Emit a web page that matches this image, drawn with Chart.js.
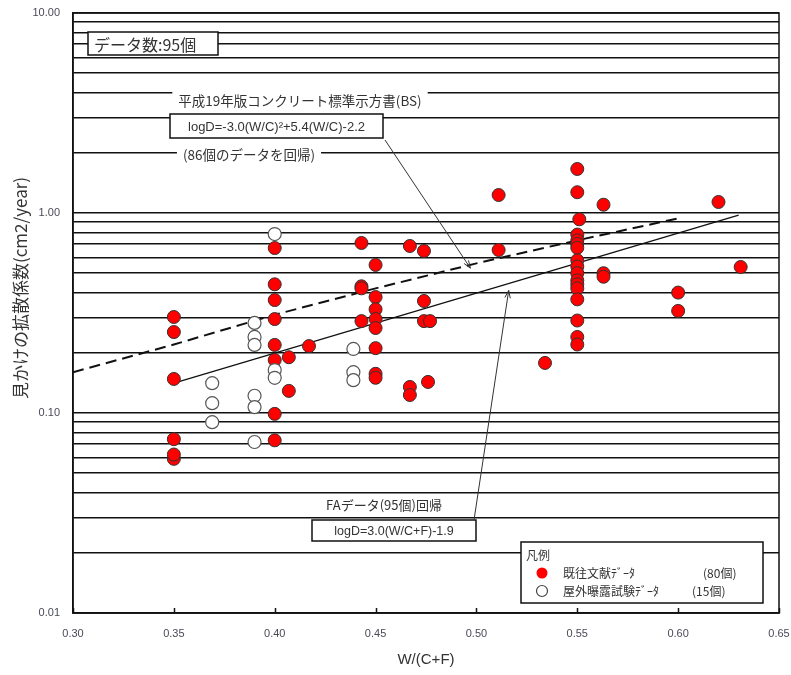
<!DOCTYPE html>
<html>
<head>
<meta charset="utf-8">
<script src="https://cdn.jsdelivr.net/npm/chart.js@4.4.0/dist/chart.umd.min.js"></script>
<style>
body { margin: 0; background: #fff; }
#wrap { width: 791px; height: 675px; }
</style>
</head>
<body>
<div id="wrap"><canvas id="chart" width="791" height="675"></canvas></div>
<script>
// 既往文献データ (red, filled)
var litX = [0.35, 0.35, 0.35, 0.35, 0.35, 0.35,
	0.40, 0.40, 0.40, 0.40, 0.40, 0.40, 0.40, 0.40,
	0.407, 0.407, 0.417,
	0.443, 0.443, 0.443, 0.443,
	0.45, 0.45, 0.45, 0.45, 0.45, 0.45, 0.45, 0.45,
	0.467, 0.467, 0.467,
	0.474, 0.474, 0.474, 0.477, 0.476,
	0.511, 0.511, 0.534,
	0.55, 0.55, 0.551, 0.55, 0.55, 0.55, 0.55, 0.55, 0.55, 0.55, 0.55, 0.55, 0.55, 0.55, 0.55, 0.55, 0.55,
	0.563, 0.563, 0.563,
	0.60, 0.60, 0.62, 0.631];
var litY = [0.302, 0.254, 0.148, 0.074, 0.059, 0.062,
	0.668, 0.44, 0.367, 0.295, 0.219, 0.184, 0.099, 0.073,
	0.19, 0.129, 0.216,
	0.708, 0.43, 0.42, 0.288,
	0.55, 0.38, 0.33, 0.295, 0.266, 0.211, 0.157, 0.15,
	0.684, 0.135, 0.123,
	0.646, 0.363, 0.288, 0.288, 0.143,
	1.23, 0.653, 0.178,
	1.66, 1.27, 0.93, 0.78, 0.73, 0.70, 0.67, 0.58, 0.54, 0.50, 0.46, 0.44, 0.42, 0.37, 0.29, 0.24, 0.22,
	1.10, 0.50, 0.48,
	0.40, 0.324, 1.135, 0.537];

// 屋外曝露試験データ (open)
var expX = [0.369, 0.369, 0.369, 0.39, 0.39, 0.39, 0.39, 0.39, 0.39, 0.40, 0.40, 0.40, 0.439, 0.439, 0.439];
var expY = [0.141, 0.112, 0.090, 0.282, 0.240, 0.219, 0.122, 0.107, 0.0716, 0.785, 0.164, 0.150, 0.209, 0.160, 0.146];

// 平成19年版 BS curve (dashed)
var bsX = [0.30, 0.35, 0.40, 0.45, 0.50, 0.55, 0.60];
var bsY = [0.16, 0.22, 0.31, 0.42, 0.56, 0.73, 0.94];

// FA regression (solid)
var faX = [0.35, 0.63];
var faY = [0.141, 0.975];

var xTicks = [0.30, 0.35, 0.40, 0.45, 0.50, 0.55, 0.60, 0.65];
var yTicks = [0.01, 0.02, 0.03, 0.04, 0.05, 0.06, 0.07, 0.08, 0.09,
	0.1, 0.2, 0.3, 0.4, 0.5, 0.6, 0.7, 0.8, 0.9,
	1, 2, 3, 4, 5, 6, 7, 8, 9, 10];

function pts(xs, ys) {
	return xs.map(function(x, i) { return {x: x, y: ys[i]}; });
}

var JP = '"Noto Sans CJK JP", sans-serif';
var TXT = '#333';

function bgText(ctx, text, cx, cy, font) {
	ctx.font = font;
	var w = ctx.measureText(text).width;
	ctx.fillStyle = '#fff';
	ctx.fillRect(cx - w / 2 - 6, cy - 9, w + 12, 18);
	ctx.fillStyle = TXT;
	ctx.textAlign = 'center';
	ctx.textBaseline = 'middle';
	ctx.fillText(text, cx, cy);
}

function boxText(ctx, text, x1, y1, x2, y2, font, align) {
	ctx.fillStyle = '#fff';
	ctx.fillRect(x1, y1, x2 - x1, y2 - y1);
	ctx.strokeStyle = '#111';
	ctx.lineWidth = 1.5;
	ctx.strokeRect(x1, y1, x2 - x1, y2 - y1);
	ctx.font = font;
	ctx.fillStyle = TXT;
	ctx.textBaseline = 'middle';
	ctx.textAlign = align || 'center';
	ctx.fillText(text, align === 'left' ? x1 + 6 : (x1 + x2) / 2, (y1 + y2) / 2 + 1);
}

function arrow(ctx, x1, y1, x2, y2) {
	ctx.strokeStyle = '#333';
	ctx.lineWidth = 1;
	ctx.beginPath();
	ctx.moveTo(x1, y1);
	ctx.lineTo(x2, y2);
	var a = Math.atan2(y2 - y1, x2 - x1);
	ctx.moveTo(x2, y2);
	ctx.lineTo(x2 - 8 * Math.cos(a - 0.35), y2 - 8 * Math.sin(a - 0.35));
	ctx.moveTo(x2, y2);
	ctx.lineTo(x2 - 8 * Math.cos(a + 0.35), y2 - 8 * Math.sin(a + 0.35));
	ctx.stroke();
}

var decor = {
	id: 'decor',
	afterDraw: function(chart) {
		var ctx = chart.ctx;
		var a = chart.chartArea;
		var xs = chart.scales.x, ys = chart.scales.y;
		ctx.save();

		// frame
		ctx.strokeStyle = '#111';
		ctx.lineWidth = 1.5;
		ctx.strokeRect(a.left, a.top, a.right - a.left, a.bottom - a.top);

		// inward x tick marks
		ctx.beginPath();
		xTicks.forEach(function(v) {
			var p = Math.round(xs.getPixelForValue(v)) + 0.5;
			ctx.moveTo(p, a.bottom);
			ctx.lineTo(p, a.bottom - 5);
		});
		ctx.stroke();

		var L = a.left, T = a.top;

		// データ数
		boxText(ctx, 'データ数:95個', L + 15, T + 19, L + 145, T + 42, '16px ' + JP, 'left');

		// BS annotation
		bgText(ctx, '平成19年版コンクリート標準示方書(BS)', L + 227, T + 88, '13.5px ' + JP);
		boxText(ctx, 'logD=-3.0(W/C)²+5.4(W/C)-2.2', L + 97, T + 101, L + 310, T + 125, '13px "Liberation Sans", Arial, sans-serif');
		bgText(ctx, '(86個のデータを回帰)', L + 176, T + 142, '13.5px ' + JP);
		arrow(ctx, L + 312, T + 127, xs.getPixelForValue(0.497), ys.getPixelForValue(0.53));

		// FA annotation
		bgText(ctx, 'FAデータ(95個)回帰', L + 311, T + 492, '13px ' + JP);
		boxText(ctx, 'logD=3.0(W/C+F)-1.9', L + 239, T + 507, L + 403, T + 528, '12.5px "Liberation Sans", Arial, sans-serif');
		arrow(ctx, L + 401, T + 507, xs.getPixelForValue(0.516), ys.getPixelForValue(0.41));

		// legend
		var lx1 = L + 448, ly1 = T + 529, lx2 = L + 690, ly2 = T + 590;
		ctx.fillStyle = '#fff';
		ctx.fillRect(lx1, ly1, lx2 - lx1, ly2 - ly1);
		ctx.strokeStyle = '#111';
		ctx.lineWidth = 1.5;
		ctx.strokeRect(lx1, ly1, lx2 - lx1, ly2 - ly1);
		ctx.font = '12px ' + JP;
		ctx.fillStyle = TXT;
		ctx.textAlign = 'left';
		ctx.textBaseline = 'middle';
		ctx.fillText('凡例', lx1 + 5, ly1 + 13);
		ctx.fillText('既往文献ﾃﾞｰﾀ', lx1 + 42, ly1 + 31);
		ctx.fillText('(80個)', lx1 + 182, ly1 + 31);
		ctx.fillText('屋外曝露試験ﾃﾞｰﾀ', lx1 + 42, ly1 + 49);
		ctx.fillText('(15個)', lx1 + 171, ly1 + 49);
		ctx.beginPath();
		ctx.arc(lx1 + 21, ly1 + 31, 5.5, 0, Math.PI * 2);
		ctx.fillStyle = '#ff0000';
		ctx.fill();
		ctx.beginPath();
		ctx.arc(lx1 + 21, ly1 + 49, 5.5, 0, Math.PI * 2);
		ctx.fillStyle = '#fff';
		ctx.fill();
		ctx.strokeStyle = '#444';
		ctx.lineWidth = 1.2;
		ctx.stroke();

		// y axis title
		ctx.translate(21, T + 275);
		ctx.rotate(-Math.PI / 2);
		ctx.font = '17px ' + JP;
		ctx.fillStyle = TXT;
		ctx.textAlign = 'center';
		ctx.textBaseline = 'middle';
		ctx.fillText('見かけの拡散係数(cm2/year)', 0, 0);
		ctx.restore();
	}
};

var ctx = document.getElementById('chart').getContext('2d');
var chart = new Chart(ctx, {
	type: 'scatter',
	data: {
		datasets: [{
			label: 'FAデータ回帰',
			data: pts(faX, faY),
			showLine: true,
			borderColor: '#111',
			borderWidth: 1.3,
			pointRadius: 0,
			order: 3
		}, {
			label: '平成19年版BS',
			data: pts(bsX, bsY),
			showLine: true,
			borderColor: '#111',
			borderWidth: 2,
			borderDash: [11, 6],
			pointRadius: 0,
			order: 4
		}, {
			label: '既往文献データ',
			data: pts(litX, litY),
			backgroundColor: '#ff0000',
			borderColor: '#333',
			borderWidth: 1,
			pointRadius: 6.5,
			order: 2
		}, {
			label: '屋外曝露試験データ',
			data: pts(expX, expY),
			backgroundColor: '#fff',
			borderColor: '#555',
			borderWidth: 1.2,
			pointRadius: 6.5,
			order: 1
		}]
	},
	options: {
		responsive: false,
		animation: false,
		layout: { padding: { left: 0, top: 13, right: 12, bottom: 0 } },
		plugins: {
			legend: { display: false },
			tooltip: { enabled: false }
		},
		scales: {
			x: {
				type: 'linear',
				min: 0.3,
				max: 0.65,
				afterBuildTicks: function(scale) {
					scale.ticks = xTicks.map(function(v) { return {value: v}; });
				},
				afterFit: function(scale) {
					scale.height = 62;
					scale.paddingLeft = 0;
					scale.paddingRight = 0;
				},
				grid: { display: false },
				border: { color: '#111', width: 1.5 },
				ticks: {
					padding: 6,
					color: '#4a4a58',
					font: { family: '"Liberation Sans", Arial, sans-serif', size: 11 },
					callback: function(v) { return Number(v).toFixed(2); }
				},
				title: {
					display: true,
					text: 'W/(C+F)',
					color: TXT,
					font: { family: '"Liberation Sans", Arial, sans-serif', size: 15 },
					padding: { top: 0, bottom: 6 }
				}
			},
			y: {
				type: 'logarithmic',
				min: 0.01,
				max: 10,
				afterBuildTicks: function(scale) {
					scale.ticks = yTicks.map(function(v) { return {value: v}; });
				},
				afterFit: function(scale) {
					scale.width = 73;
					scale.paddingTop = 0;
					scale.paddingBottom = 0;
				},
				grid: { color: '#111', lineWidth: 1.5, drawTicks: false },
				border: { color: '#111', width: 1.5 },
				ticks: {
					autoSkip: false,
					padding: 13,
					color: '#4a4a58',
					font: { family: '"Liberation Sans", Arial, sans-serif', size: 11 },
					callback: function(v) {
						var e = Math.log10(v);
						return Math.abs(e - Math.round(e)) < 1e-6 ? Number(v).toFixed(2) : '';
					}
				}
			}
		}
	},
	plugins: [decor]
});
</script>
</body>
</html>
